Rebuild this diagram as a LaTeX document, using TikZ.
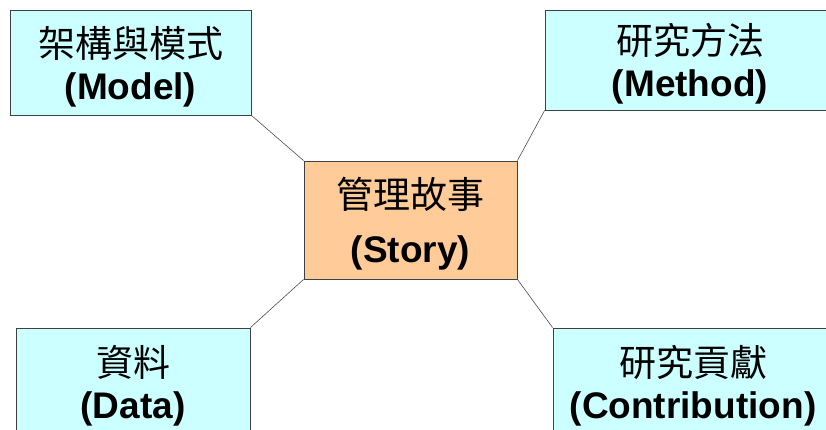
\documentclass[tikz,border=0pt]{standalone}
\usepackage{fontspec}
\setmainfont{Liberation Sans}
\newfontfamily\cjk{Noto Sans CJK TC}
\definecolor{boxcyan}{HTML}{CCFFFF}
\definecolor{boxpeach}{HTML}{FFCC99}
\newcommand{\boxstrut}{\rule{0pt}{39pt}}
\begin{document}
\begin{tikzpicture}[x=1pt,y=-1pt]
  \useasboundingbox (0,0) rectangle (826,430);
  \begin{scope}[every node/.style={draw=black!75,line width=0.8pt,align=center,inner sep=0pt,font=\fontsize{37}{42}\selectfont}]
  \node[fill=boxcyan,minimum width=241pt,minimum height=105pt] (model) at (130.5,62.5) {{\cjk\boxstrut 架構與模式}\\\textbf{(Model)}};
  \node[fill=boxcyan,minimum width=290pt,minimum height=100pt] (method) at (690,60) {{\cjk\boxstrut 研究方法}\\\textbf{(Method)}};
  \node[fill=boxpeach,minimum width=213pt,minimum height=118pt] (story) at (410.5,220) {{\cjk\boxstrut 管理故事}\\[12pt]\textbf{(Story)}};
  \node[fill=boxcyan,minimum width=234pt,minimum height=108pt] (data) at (133,382) {{\cjk\boxstrut 資料}\\\textbf{(Data)}};
  \node[fill=boxcyan,minimum width=280pt,minimum height=108pt] (contrib) at (693,382) {{\cjk\boxstrut 研究貢獻}\\\textbf{(Contribution)}};
  \end{scope}
  \begin{scope}[every edge/.style={draw=black!70,line width=0.6pt}]
  \path (model.south east) edge (story.north west);
  \path (method.south west) edge (story.north east);
  \path (data.north east) edge (story.south west);
  \path (contrib.north west) edge (story.south east);
  \end{scope}
\end{tikzpicture}
\end{document}
